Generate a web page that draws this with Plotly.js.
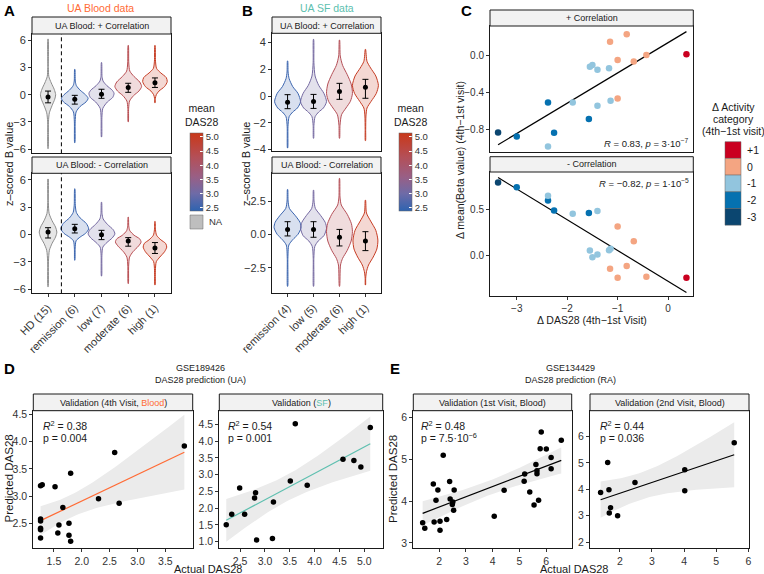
<!DOCTYPE html>
<html><head><meta charset="utf-8">
<script src="https://cdn.plot.ly/plotly-3.0.1.min.js"></script>
<style>body{margin:0;background:#fff}#plot{width:764px;height:574px}</style>
</head><body><div id="plot"></div>
<script>
// ---------------- DATA ----------------
const catA = ['HD (15)','remission (6)','low (7)','moderate (6)','high (1)'];
const catB = ['remission (4)','low (5)','moderate (6)','high (1)'];
const dasA = [null, 2.5, 3.1, 4.4, 5.0];
const dasB = [2.5, 3.1, 4.3, 5.0];

// violin density profiles: levels (z-scored B value) and half-widths (share of category slot)
const aPosY = [
 [-5.96,-3.0,-2.0,-1.2,-0.5,0.0,0.6,1.3,2.0,3.0,6.15],
 [-5.3,-3.0,-1.9,-1.3,-0.8,-0.4,0.0,0.5,1.0,1.5,2.8],
 [-4.67,-2.5,-1.5,-0.8,-0.3,0.15,0.5,1.0,1.5,2.0,3.55],
 [-3.0,-1.5,-0.7,-0.1,0.4,0.9,1.4,2.0,2.6,3.5,5.44],
 [-0.9,-0.4,0.0,0.4,0.9,1.44,1.9,2.4,2.9,3.7,5.44]];
const aPosW = [
 [0.005,0.015,0.05,0.15,0.25,0.285,0.23,0.12,0.03,0.012,0.005],
 [0.005,0.015,0.05,0.2,0.42,0.5,0.4,0.2,0.06,0.02,0.005],
 [0.005,0.015,0.05,0.22,0.42,0.47,0.4,0.2,0.06,0.02,0.005],
 [0.005,0.015,0.05,0.2,0.4,0.5,0.43,0.22,0.06,0.02,0.005],
 [0.005,0.015,0.05,0.15,0.36,0.46,0.42,0.22,0.06,0.02,0.005]];
const aNegY = [
 [-5.75,-3.0,-1.75,-1.0,-0.3,0.25,0.8,1.5,2.3,3.5,6.07],
 [-2.84,-1.5,-0.7,-0.3,0.1,0.6,1.2,1.8,2.4,3.2,5.0],
 [-4.58,-2.3,-1.4,-0.9,-0.4,0.05,0.5,1.1,1.7,2.3,3.53],
 [-5.4,-3.5,-2.5,-1.9,-1.3,-0.85,-0.5,-0.1,0.4,0.9,1.9],
 [-5.56,-4.0,-3.0,-2.5,-1.9,-1.4,-1.0,-0.6,-0.1,0.5,1.42]];
const aNegW = [
 [0.005,0.015,0.05,0.15,0.28,0.33,0.28,0.15,0.04,0.012,0.005],
 [0.005,0.015,0.05,0.2,0.4,0.52,0.43,0.2,0.06,0.02,0.005],
 [0.005,0.015,0.05,0.2,0.4,0.5,0.44,0.22,0.06,0.02,0.005],
 [0.005,0.015,0.05,0.18,0.38,0.48,0.43,0.22,0.06,0.02,0.005],
 [0.005,0.015,0.05,0.18,0.36,0.44,0.4,0.22,0.06,0.02,0.005]];
const bPosY = [
 [-3.9,-2.3,-1.55,-1.2,-0.9,-0.43,0.2,0.7,1.3,1.8,2.63],
 [-3.17,-2.2,-1.55,-1.2,-0.9,-0.43,0.2,0.8,1.5,2.5,4.25],
 [-3.17,-2.2,-1.4,-0.9,-0.4,0.2,0.9,1.6,2.3,3.0,4.2],
 [-3.35,-2.5,-1.5,-0.9,-0.4,0.2,0.8,1.5,2.1,2.6,3.5]];
const bPosW = [
 [0.005,0.015,0.06,0.2,0.38,0.5,0.4,0.2,0.06,0.02,0.005],
 [0.005,0.015,0.06,0.2,0.38,0.5,0.4,0.2,0.06,0.015,0.005],
 [0.005,0.02,0.08,0.25,0.42,0.5,0.45,0.3,0.12,0.03,0.005],
 [0.005,0.01,0.02,0.06,0.22,0.42,0.5,0.4,0.2,0.06,0.005]];
const bNegY = [
 [-3.9,-1.8,-0.8,-0.4,0.0,0.5,0.9,1.4,1.95,2.5,3.37],
 [-3.9,-1.8,-0.9,-0.5,-0.1,0.45,0.9,1.4,1.95,2.5,3.32],
 [-3.9,-2.3,-1.8,-1.2,-0.5,0.2,0.8,1.5,2.2,2.8,4.2],
 [-3.8,-3.3,-2.8,-2.3,-1.7,-1.1,-0.43,0.3,1.0,1.6,2.57]];
const bNegW = [
 [0.005,0.012,0.05,0.2,0.4,0.52,0.48,0.3,0.07,0.02,0.005],
 [0.005,0.012,0.05,0.18,0.4,0.5,0.45,0.28,0.07,0.02,0.005],
 [0.005,0.04,0.12,0.3,0.45,0.5,0.46,0.3,0.07,0.02,0.005],
 [0.005,0.01,0.04,0.12,0.3,0.44,0.48,0.4,0.2,0.04,0.005]];

// mean and error bars
const aPosMean = [-0.25,-0.5,0.05,0.8,1.33], aPosLo = [-0.9,-1.04,-0.4,0.26,0.8], aPosHi = [0.4,-0.07,0.6,1.26,1.85];
const aNegMean = [0.25,0.62,-0.04,-0.73,-1.5], aNegLo = [-0.4,0.15,-0.58,-1.3,-2.1], aNegHi = [0.73,1.1,0.44,-0.36,-0.9];
const bPosMean = [-0.47,-0.42,0.33,0.65], bPosLo = [-0.95,-0.93,-0.25,-0.17], bPosHi = [0.1,0.12,0.95,1.25];
const bNegMean = [0.37,0.37,-0.22,-0.5], bNegLo = [-0.12,-0.22,-0.87,-1.22], bNegHi = [0.95,0.95,0.37,0.2];

// panel C
const cDx   = [-3.37,-3.0,-2.38,-2.38,-2.26,-1.89,-1.57,-1.55,-1.5,-1.4,-1.4,-1.17,-1.14,-1.15,-1.0,-1.0,-0.82,-0.68,-0.43,0.364];
const cCat  = ['-3','-2','-2','-1','-2','-1','-2','-1','-1','-1','-1','-1','-1','0','0','0','0','0','0','+1'];
const cPosY = [-0.836,-0.88,-0.51,-0.99,-0.84,-0.51,-0.69,-0.117,-0.098,-0.15,-0.545,-0.134,-0.49,0.156,-0.044,-0.465,0.236,-0.062,0.011,0.018];
const cNegY = [0.786,0.736,0.593,0.643,0.486,0.45,0.457,0.054,-0.018,0.011,0.479,0.057,0.072,-0.143,0.314,-0.239,-0.114,0.153,-0.228,-0.239];
const actCats = ['+1','0','-1','-2','-3'];
const actCols = ['#CA0020','#F4A582','#92C5DE','#0571B0','#0B4670'];

// panel D
const dLx = [1.26,1.29,1.52,1.80,1.66,1.26,1.26,1.26,1.26,1.26,1.59,1.57,1.77,1.77,1.80,2.30,2.59,2.67,3.84];
const dLy = [3.19,3.21,3.17,3.42,2.79,2.58,2.54,2.41,2.38,2.23,2.47,2.32,2.50,2.28,2.17,2.95,3.80,2.87,3.92];
const dRx = [2.22,2.33,2.59,2.49,2.79,2.81,2.83,3.15,3.17,3.51,3.85,3.61,4.57,4.79,4.93,5.12];
const dRy = [1.50,1.82,1.82,2.60,2.30,2.46,1.05,1.09,2.18,2.81,2.68,4.52,3.46,3.42,3.23,4.41];
// panel E
const eLx = [1.38,1.46,1.78,1.81,1.88,1.95,2.03,2.03,2.15,2.28,2.39,2.41,2.49,2.51,2.54,2.56,4.06,4.43,5.18,5.20,5.39,5.55,5.62,5.66,5.66,5.72,5.82,5.78,6.01,6.19,6.19,6.57];
const eLy = [3.48,3.35,4.41,3.50,4.02,4.27,3.52,3.30,5.10,3.56,4.47,4.05,3.92,3.98,3.78,4.27,3.64,4.26,4.48,4.65,4.22,3.91,4.88,4.73,4.66,4.02,5.66,5.26,5.25,5.05,4.78,5.46];
const eRx = [1.40,1.62,1.66,1.67,1.71,1.93,2.47,4.02,4.02,5.56];
const eRy = [3.88,5.02,3.99,3.11,3.31,3.00,4.26,4.74,3.95,5.77];

// ---------------- HELPERS ----------------
const W=764,H=574;
const FONT='Liberation Sans, Arial, Helvetica, sans-serif';
const ORANGE='#FF6B35', TEAL='#5DBFAF';
const xd=(l,r)=>[l/W,r/W];
const yd=(t,b)=>[1-b/H,1-t/H];
const csStops=[[2.39,'#2E63B0'],[3.0,'#6E6BA7'],[3.6,'#995F85'],[4.3,'#B44F57'],[5.14,'#C93819']];
const CMIN=2.39,CMAX=5.14;
const plotlyScale=csStops.map(s=>[(s[0]-CMIN)/(CMAX-CMIN),s[1]]);
function hex2rgb(h){return [parseInt(h.slice(1,3),16),parseInt(h.slice(3,5),16),parseInt(h.slice(5,7),16)];}
function colAt(v){
  if(v==null) return [140,140,140];
  for(let i=0;i<csStops.length-1;i++){
    const a=csStops[i][0],b=csStops[i+1][0];
    if(v<=b){const t=Math.max(0,(v-a)/(b-a));const A=hex2rgb(csStops[i][1]),B=hex2rgb(csStops[i+1][1]);return A.map((x,j)=>Math.round(x+(B[j]-x)*t));}
  }
  return hex2rgb(csStops[csStops.length-1][1]);
}
function violins(Ys,Ws,das,xa,ya){
  return Ys.map((Y,i)=>{
    const cx=i+1,Wd=Ws[i],xs=[],ys=[];
    for(let k=0;k<Y.length;k++){xs.push(cx+Wd[k]);ys.push(Y[k]);}
    for(let k=Y.length-1;k>=0;k--){xs.push(cx-Wd[k]);ys.push(Y[k]);}
    xs.push(xs[0]);ys.push(ys[0]);
    const c=colAt(das[i]);
    return {type:'scatter',mode:'lines',x:xs,y:ys,xaxis:xa,yaxis:ya,fill:'toself',
      fillcolor:'rgba('+c.join(',')+','+(das[i]==null?0.22:0.2)+')',
      line:{color:'rgb('+c.join(',')+')',width:1,shape:'spline',smoothing:0.7},hoverinfo:'skip',showlegend:false};
  });
}
function meanErr(m,lo,hi,xa,ya){
  return {type:'scatter',mode:'markers',x:m.map((_,i)=>i+1),y:m,xaxis:xa,yaxis:ya,
    marker:{size:5,color:'#000'},
    error_y:{type:'data',symmetric:false,array:hi.map((h,i)=>h-m[i]),arrayminus:lo.map((l,i)=>m[i]-l),color:'#000',thickness:1,width:3},
    hoverinfo:'skip',showlegend:false};
}
function linfit(xs,ys){
  const n=xs.length,mx=xs.reduce((a,b)=>a+b,0)/n,my=ys.reduce((a,b)=>a+b,0)/n;
  let sxx=0,sxy=0;for(let i=0;i<n;i++){sxx+=(xs[i]-mx)**2;sxy+=(xs[i]-mx)*(ys[i]-my);}
  const b=sxy/sxx,a=my-b*mx;let sse=0;for(let i=0;i<n;i++){sse+=(ys[i]-a-b*xs[i])**2;}
  return {a,b,mx,sxx,n,s:Math.sqrt(sse/(n-2))};
}
function smooth(xs,ys,t,color,xa,ya,band){
  const f=linfit(xs,ys),lo=Math.min(...xs),hi=Math.max(...xs);
  const out=[];
  if(band){
    const gx=[],up=[],dn=[];
    for(let i=0;i<=60;i++){const x=lo+(hi-lo)*i/60,yh=f.a+f.b*x,se=f.s*Math.sqrt(1/f.n+(x-f.mx)**2/f.sxx);gx.push(x);up.push(yh+t*se);dn.push(yh-t*se);}
    out.push({type:'scatter',mode:'lines',x:gx.concat(gx.slice().reverse()),y:up.concat(dn.slice().reverse()),fill:'toself',fillcolor:'#EBEBEB',line:{width:0},xaxis:xa,yaxis:ya,hoverinfo:'skip',showlegend:false});
  }
  out.push({type:'scatter',mode:'lines',x:[lo,hi],y:[f.a+f.b*lo,f.a+f.b*hi],line:{color:color,width:1.2},xaxis:xa,yaxis:ya,hoverinfo:'skip',showlegend:false});
  return out;
}
function pts(xs,ys,xa,ya){return {type:'scatter',mode:'markers',x:xs,y:ys,xaxis:xa,yaxis:ya,marker:{size:5.5,color:'#000'},hoverinfo:'skip',showlegend:false};}
function cbTrace(xa,ya,xpx){
  return {type:'scatter',mode:'markers',x:[1],y:[0],xaxis:xa,yaxis:ya,hoverinfo:'skip',showlegend:false,
    marker:{size:1,opacity:0,color:[3],cmin:CMIN,cmax:CMAX,colorscale:plotlyScale,showscale:true,
      colorbar:{x:xpx/W,xanchor:'left',y:1-172/H,yanchor:'middle',len:78,lenmode:'pixels',thickness:13,thicknessmode:'pixels',
        xpad:0,ypad:0,outlinewidth:0.5,outlinecolor:'#666',tickvals:[2.5,3,3.5,4,4.5,5],ticktext:['2.5','3.0','3.5','4.0','4.5','5.0'],
        ticks:'inside',ticklen:3,tickcolor:'#fff',tickwidth:1,tickfont:{family:FONT,size:9.5,color:'#333'}}}};
}
function mkAx(dom,range,o){
  return Object.assign({domain:dom,range:range,autorange:false,showline:true,mirror:true,linecolor:'#1a1a1a',linewidth:1,
    showgrid:false,zeroline:false,ticks:'outside',ticklen:3,tickwidth:1,tickcolor:'#333',
    tickfont:{family:FONT,size:10.5,color:'#333'},fixedrange:true},o||{});
}
function ann(text,x,y,o,f){
  return Object.assign({text:text,x:x/W,y:1-y/H,xref:'paper',yref:'paper',showarrow:false,xanchor:'center',yanchor:'middle',
    font:Object.assign({family:FONT,size:10,color:'#1a1a1a'},f||{})},o||{});
}
function strip(l,r,t,b){return {type:'rect',xref:'paper',yref:'paper',x0:l/W,x1:r/W,y0:1-b/H,y1:1-t/H,fillcolor:'#F2F2F2',line:{color:'#1a1a1a',width:1}};}

// ---------------- TRACES ----------------
let traces=[];
traces=traces.concat(violins(aPosY,aPosW,dasA,'x','y'),[meanErr(aPosMean,aPosLo,aPosHi,'x','y')]);
traces=traces.concat(violins(aNegY,aNegW,dasA,'x2','y2'),[meanErr(aNegMean,aNegLo,aNegHi,'x2','y2')]);
traces=traces.concat(violins(bPosY,bPosW,dasB,'x3','y3'),[meanErr(bPosMean,bPosLo,bPosHi,'x3','y3')]);
traces=traces.concat(violins(bNegY,bNegW,dasB,'x4','y4'),[meanErr(bNegMean,bNegLo,bNegHi,'x4','y4')]);
traces.push(cbTrace('x','y',190));
traces.push(cbTrace('x3','y3',399));
// C
const cCol=cCat.map(c=>actCols[actCats.indexOf(c)]);
traces=traces.concat(smooth(cDx,cPosY,0,'#000','x5','y5',false));
traces=traces.concat(smooth(cDx,cNegY,0,'#000','x6','y6',false));
traces.push({type:'scatter',mode:'markers',x:cDx,y:cPosY,xaxis:'x5',yaxis:'y5',marker:{size:6.5,color:cCol},hoverinfo:'skip',showlegend:false});
traces.push({type:'scatter',mode:'markers',x:cDx,y:cNegY,xaxis:'x6',yaxis:'y6',marker:{size:6.5,color:cCol},hoverinfo:'skip',showlegend:false});
// D / E
traces=traces.concat(smooth(dLx,dLy,2.110,ORANGE,'x7','y7',true),[pts(dLx,dLy,'x7','y7')]);
traces=traces.concat(smooth(dRx,dRy,2.145,TEAL,'x8','y8',true),[pts(dRx,dRy,'x8','y8')]);
traces=traces.concat(smooth(eLx,eLy,2.042,'#000','x9','y9',true),[pts(eLx,eLy,'x9','y9')]);
traces=traces.concat(smooth(eRx,eRy,2.306,'#000','x10','y10',true),[pts(eRx,eRy,'x10','y10')]);

// ---------------- LAYOUT ----------------
const tf=(s)=>({family:FONT,size:s,color:'#333'});
const BL=272,BR=381;
const layout={width:W,height:H,margin:{l:0,r:0,t:0,b:0},paper_bgcolor:'#fff',plot_bgcolor:'#fff',showlegend:false,
  font:{family:FONT,size:10,color:'#1a1a1a'},
  xaxis: mkAx(xd(32,171),[0.4,5.6],{anchor:'y',tickvals:[1,2,3,4,5],showticklabels:false,ticks:''}),
  yaxis: mkAx(yd(34,153.3),[-6.47,6.7],{anchor:'x',tickvals:[-6,-3,0,3,6]}),
  xaxis2:mkAx(xd(32,171),[0.4,5.6],{anchor:'y2',tickvals:[1,2,3,4,5],ticktext:catA,tickangle:-45}),
  yaxis2:mkAx(yd(173.3,293.3),[-6.47,6.7],{anchor:'x2',tickvals:[-6,-3,0,3,6]}),
  xaxis3:mkAx(xd(BL,BR),[0.4,4.6],{anchor:'y3',tickvals:[1,2,3,4],showticklabels:false,ticks:''}),
  yaxis3:mkAx(yd(33.3,150.7),[-4.1,4.7],{anchor:'x3',tickvals:[-4,-2,0,2,4]}),
  xaxis4:mkAx(xd(BL,BR),[0.4,4.6],{anchor:'y4',tickvals:[1,2,3,4],ticktext:catB,tickangle:-45}),
  yaxis4:mkAx(yd(173.3,293),[-4.4,4.58],{anchor:'x4',tickvals:[-2.5,0,2.5],tickformat:'.1f'}),
  xaxis5:mkAx(xd(490,693.3),[-3.53,0.5],{anchor:'y5',tickvals:[-3,-2,-1,0],showticklabels:false,ticks:''}),
  yaxis5:mkAx(yd(26,152),[-1.05,0.327],{anchor:'x5',tickvals:[-0.8,-0.4,0],tickformat:'.1f'}),
  xaxis6:mkAx(xd(490,693.3),[-3.53,0.5],{anchor:'y6',tickvals:[-3,-2,-1,0]}),
  yaxis6:mkAx(yd(172,296),[-0.436,0.9],{anchor:'x6',tickvals:[0,0.5],tickformat:'.1f'}),
  xaxis7:mkAx(xd(33.3,192.7),[1.13,3.99],{anchor:'y7',tickvals:[1.5,2,2.5,3,3.5],tickformat:'.1f'}),
  yaxis7:mkAx(yd(410.7,548.3),[2.04,4.57],{anchor:'x7',tickvals:[2.5,3,3.5,4,4.5],tickformat:'.1f'}),
  xaxis8:mkAx(xd(219.3,382.7),[2.08,5.37],{anchor:'y8',tickvals:[2.5,3,3.5,4,4.5,5],tickformat:'.1f'}),
  yaxis8:mkAx(yd(410.7,548.3),[0.80,4.91],{anchor:'x8',tickvals:[1,1.5,2,2.5,3,3.5,4,4.5],tickformat:'.1f'}),
  xaxis9:mkAx(xd(413.3,571.7),[1.03,6.96],{anchor:'y9',tickvals:[2,3,4,5,6]}),
  yaxis9:mkAx(yd(410.7,548.3),[2.87,6.17],{anchor:'x9',tickvals:[3,4,5,6]}),
  xaxis10:mkAx(xd(590,749),[1.07,6.02],{anchor:'y10',tickvals:[2,3,4,5,6]}),
  yaxis10:mkAx(yd(410.7,548.3),[1.77,6.98],{anchor:'x10',tickvals:[2,3,4,5,6]}),
};
['xaxis','yaxis','xaxis2','yaxis2','xaxis3','yaxis3','xaxis4','yaxis4'].forEach(k=>{layout[k].tickfont=tf(11);});
['xaxis5','yaxis5','xaxis6','yaxis6'].forEach(k=>{layout[k].tickfont=tf(10);});

const shapes=[
  strip(32,171,17,34),strip(32,171,157,173.3),
  strip(BL,BR,17,33.3),strip(BL,BR,157,173.3),
  strip(490,693.3,10,26),strip(490,693.3,156.7,172),
  strip(33.3,192.7,394,410.7),strip(219.3,382.7,394,410.7),
  strip(413.3,571.7,394,410.7),strip(590,749,394,410.7),
  {type:'line',xref:'x',yref:'y domain',x0:1.5,x1:1.5,y0:0,y1:1,line:{color:'#000',width:1,dash:'4px,3px'}},
  {type:'line',xref:'x2',yref:'y2 domain',x0:1.5,x1:1.5,y0:0,y1:1,line:{color:'#000',width:1,dash:'4px,3px'}},
  {type:'rect',xref:'paper',yref:'paper',x0:190/W,x1:203/W,y0:1-229/H,y1:1-215/H,fillcolor:'#BEBEBE',line:{color:'#666',width:0.5}},
];
actCats.forEach((c,i)=>{
  const t=141.7+i*16.7;
  shapes.push({type:'rect',xref:'paper',yref:'paper',x0:725/W,x1:741/W,y0:1-(t+16.7)/H,y1:1-t/H,fillcolor:actCols[i],line:{color:'#666',width:0.5}});
});
layout.shapes=shapes;

const annotations=[
  ann('<b>A</b>',2,11,{xanchor:'left'},{size:15,color:'#000'}),
  ann('<b>B</b>',240,11,{xanchor:'left'},{size:15,color:'#000'}),
  ann('<b>C</b>',459,11,{xanchor:'left'},{size:15,color:'#000'}),
  ann('<b>D</b>',2,368,{xanchor:'left'},{size:15,color:'#000'}),
  ann('<b>E</b>',388,368,{xanchor:'left'},{size:15,color:'#000'}),
  ann('UA Blood data',100,8,{},{size:10.5,color:ORANGE}),
  ann('UA SF data',(BL+BR)/2,8,{},{size:10.5,color:TEAL}),
  ann('UA Blood: + Correlation',101.5,25.5,{},{size:9}),
  ann('UA Blood: - Correlation',101.5,165,{},{size:9}),
  ann('UA Blood: + Correlation',(BL+BR)/2,25.5,{},{size:9}),
  ann('UA Blood: - Correlation',(BL+BR)/2,165,{},{size:9}),
  ann('+ Correlation',591.7,18,{},{size:9}),
  ann('- Correlation',591.7,164.3,{},{size:9}),
  ann('z\u2013scored B value',9,164,{textangle:-90},{size:11}),
  ann('z\u2013scored B value',246,164,{textangle:-90},{size:11}),
  ann('mean<br>DAS28',201,130,{yanchor:'bottom'},{size:10.5}),
  ann('mean<br>DAS28',410,130,{yanchor:'bottom'},{size:10.5}),
  ann('NA',207,222,{xanchor:'left'},{size:9.5,color:'#333'}),
  ann('\u0394 mean(Beta value) (4th\u22121st visit)',460,160,{textangle:-90},{size:10.5}),
  ann('\u0394 DAS28 (4th\u22121st Visit)',591.7,319.5,{},{size:10.5}),
  ann('<i>R</i> = 0.83, <i>p</i> = 3\u00b710<sup>\u22127</sup>',691,143,{xanchor:'right'},{size:9.5}),
  ann('<i>R</i> = \u22120.82, <i>p</i> = 1\u00b710<sup>\u22125</sup>',691,182.5,{xanchor:'right'},{size:9.5}),
  ann('\u0394 Activity',733,107,{},{size:10.5}),
  ann('category',733,119,{},{size:10.5}),
  ann('(4th\u22121st visit)',733,131,{},{size:10.5}),
  ann('GSE189426',200,368,{},{size:9}),
  ann('DAS28 prediction (UA)',200,380,{},{size:9}),
  ann('GSE134429',570,368,{},{size:9}),
  ann('DAS28 prediction (RA)',570,380,{},{size:9}),
  ann('Validation (4th Visit, <span style="color:'+ORANGE+'">Blood</span>)',113,402.5,{},{size:9}),
  ann('Validation (<span style="color:'+TEAL+'">SF</span>)',301,402.5,{},{size:9}),
  ann('Validation (1st Visit, Blood)',492.5,402.5,{},{size:9}),
  ann('Validation (2nd Visit, Blood)',669.5,402.5,{},{size:9}),
  ann('<i>R</i><sup>2</sup> = 0.38',41,425,{xanchor:'left'},{size:10.5}),
  ann('p = 0.004',41,437.5,{xanchor:'left'},{size:10.5}),
  ann('<i>R</i><sup>2</sup> = 0.54',225.5,425,{xanchor:'left'},{size:10.5}),
  ann('p = 0.001',225.5,437.5,{xanchor:'left'},{size:10.5}),
  ann('<i>R</i><sup>2</sup> = 0.48',419.5,425,{xanchor:'left'},{size:10.5}),
  ann('p = 7.5\u00b710<sup>\u22126</sup>',419.5,437.5,{xanchor:'left'},{size:10.5}),
  ann('<i>R</i><sup>2</sup> = 0.44',597.5,425,{xanchor:'left'},{size:10.5}),
  ann('p = 0.036',597.5,437.5,{xanchor:'left'},{size:10.5}),
  ann('Predicted DAS28',8.5,479,{textangle:-90},{size:11.5}),
  ann('Predicted DAS28',393,479,{textangle:-90},{size:11.5}),
  ann('Actual DAS28',208,568.5,{},{size:11}),
  ann('Actual DAS28',574,568.5,{},{size:11}),
];
actCats.forEach((c,i)=>{annotations.push(ann(c,745,141.7+i*16.7+8.3,{xanchor:'left'},{size:10.5}));});
layout.annotations=annotations;

Plotly.newPlot('plot',traces,layout,{displayModeBar:false,staticPlot:true});
</script>
</body></html>
